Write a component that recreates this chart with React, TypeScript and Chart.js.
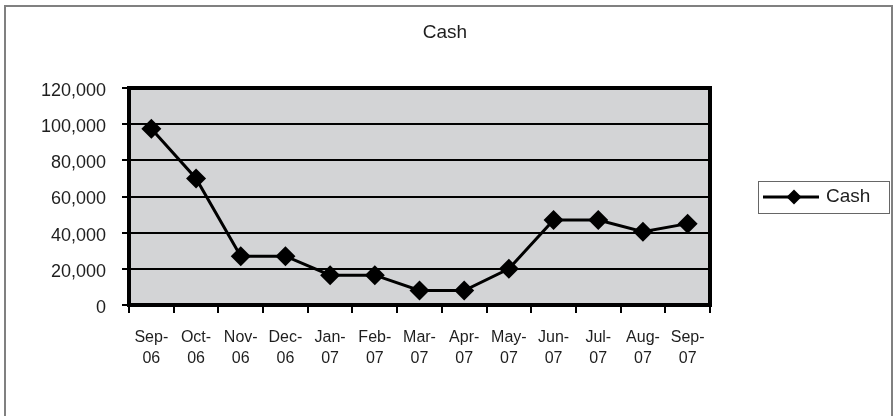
import React, { useEffect, useRef } from "react";
import { Chart, registerables } from "chart.js";

Chart.register(...registerables);

const categories: string[][] = [
  ["Sep-", "06"], ["Oct-", "06"], ["Nov-", "06"], ["Dec-", "06"],
  ["Jan-", "07"], ["Feb-", "07"], ["Mar-", "07"], ["Apr-", "07"],
  ["May-", "07"], ["Jun-", "07"], ["Jul-", "07"], ["Aug-", "07"], ["Sep-", "07"],
];
const cashValues: number[] = [97500, 70000, 27000, 27000, 16500, 16500, 8000, 8000, 20000, 47000, 47000, 40500, 45000];
const seriesName = "Cash";
const chartTitle = "Cash";
const yMin = 0;
const yMax = 120000;
const yStep = 20000;

const FONT = "'Liberation Sans', Arial, sans-serif";
const TEXT = "#1e1e1e";

const decorPlugin = {
  id: "decor",
  beforeDraw(chart: any) {
    const { ctx, chartArea: a } = chart;
    ctx.save();
    ctx.fillStyle = "#ffffff";
    ctx.fillRect(0, 0, chart.width, chart.height);
    ctx.fillStyle = "#d3d4d6";
    ctx.fillRect(a.left, a.top, a.right - a.left, a.bottom - a.top);
    ctx.strokeStyle = "#808080";
    ctx.lineWidth = 2;
    ctx.beginPath();
    ctx.moveTo(5, chart.height + 5);
    ctx.lineTo(5, 6);
    ctx.lineTo(892, 6);
    ctx.lineTo(892, chart.height + 5);
    ctx.stroke();
    ctx.restore();
  },
  beforeDatasetsDraw(chart: any) {
    const { ctx, chartArea: a } = chart;
    ctx.save();
    ctx.strokeStyle = "#000000";
    ctx.lineWidth = 4;
    ctx.beginPath();
    ctx.moveTo(a.left - 2, a.top);
    ctx.lineTo(a.right, a.top);
    ctx.lineTo(a.right, a.bottom + 2);
    ctx.stroke();
    ctx.restore();
  },
  afterDraw(chart: any) {
    const { ctx } = chart;
    ctx.save();
    ctx.fillStyle = TEXT;
    ctx.font = `19px ${FONT}`;
    ctx.textAlign = "center";
    ctx.textBaseline = "middle";
    ctx.fillText(chartTitle, 445, 33);
    ctx.strokeStyle = "#666666";
    ctx.lineWidth = 1;
    ctx.strokeRect(758.5, 181.5, 131, 32);
    ctx.strokeStyle = "#000000";
    ctx.lineWidth = 3;
    ctx.beginPath();
    ctx.moveTo(763, 197);
    ctx.lineTo(819, 197);
    ctx.stroke();
    ctx.fillStyle = "#000000";
    ctx.beginPath();
    const r = 7.5;
    ctx.moveTo(794, 197 - r);
    ctx.lineTo(794 + r, 197);
    ctx.lineTo(794, 197 + r);
    ctx.lineTo(794 - r, 197);
    ctx.closePath();
    ctx.fill();
    ctx.fillStyle = TEXT;
    ctx.textAlign = "left";
    ctx.font = `19px ${FONT}`;
    ctx.fillText(seriesName, 826, 197);
    ctx.restore();
  },
};

export default function App() {
  const ref = useRef<HTMLCanvasElement | null>(null);
  useEffect(() => {
    document.body.style.margin = "0";
    if (!ref.current) return;
    const chart = new Chart(ref.current, {
      type: "line",
      data: {
        labels: categories,
        datasets: [
          {
            label: seriesName,
            data: cashValues,
            borderColor: "#000000",
            backgroundColor: "#000000",
            borderWidth: 3,
            tension: 0,
            pointStyle: "rectRot",
            pointRadius: 10,
            pointBackgroundColor: "#000000",
            pointBorderColor: "#000000",
            pointBorderWidth: 0,
          },
        ],
      },
      options: {
        responsive: false,
        animation: false,
        layout: { padding: { top: 88, left: 0, right: 185, bottom: 0 } },
        plugins: {
          legend: { display: false },
          title: { display: false },
          tooltip: { enabled: false },
        },
        scales: {
          x: {
            type: "category",
            offset: true,
            afterFit(scale: any) {
              scale.height = 111;
            },
            grid: {
              display: true,
              offset: true,
              drawOnChartArea: false,
              drawTicks: true,
              tickLength: 8,
              color: "#000000",
              lineWidth: 2,
            },
            border: { display: true, color: "#000000", width: 4 },
            ticks: {
              autoSkip: false,
              maxRotation: 0,
              minRotation: 0,
              padding: 14,
              color: TEXT,
              font: { family: FONT, size: 16, lineHeight: 1.3 },
            },
          },
          y: {
            min: yMin,
            max: yMax,
            afterFit(scale: any) {
              scale.width = 129;
            },
            grid: {
              display: true,
              drawTicks: true,
              tickLength: 7,
              color: "#000000",
              lineWidth: 2,
            },
            border: { display: true, color: "#000000", width: 4 },
            ticks: {
              stepSize: yStep,
              padding: 16,
              labelOffset: 3,
              color: TEXT,
              font: { family: FONT, size: 18 },
              callback: (v: any) => Number(v).toLocaleString("en-US"),
            },
          },
        },
      },
      plugins: [decorPlugin],
    });
    return () => chart.destroy();
  }, []);
  return (
    <div style={{ width: 895, height: 416 }}>
      <canvas ref={ref} width={895} height={416} style={{ display: "block" }} />
    </div>
  );
}
